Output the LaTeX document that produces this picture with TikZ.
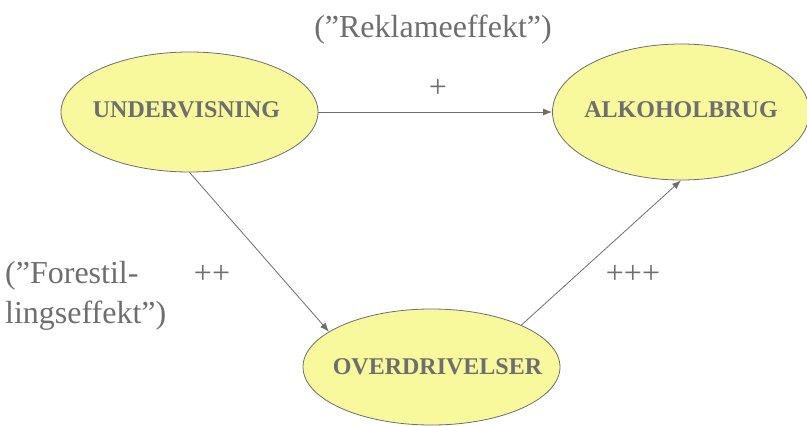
\documentclass[tikz,border=0pt]{standalone}
\usepackage{fontspec}
\setmainfont{Liberation Serif}
\usetikzlibrary{positioning}
\usetikzlibrary{shapes.geometric}
\usetikzlibrary{arrows.meta}
\definecolor{bubblefill}{RGB}{248,249,157}
\definecolor{linegray}{RGB}{110,110,110}

\begin{document}
\begin{tikzpicture}[x=1pt, y=-1pt,
                        bubble/.style={ellipse, draw=linegray, fill=bubblefill, line width=0.8pt,
                                       minimum width=257pt, inner sep=0pt},
                        title/.style={text=linegray, font=\fontsize{24}{28}\selectfont\bfseries},
                        note/.style={text=linegray, font=\fontsize{32}{40}\selectfont, inner sep=0pt},
                        connection/.style={draw=linegray, line width=0.8pt, -{Latex[length=9pt,width=7pt]}}]

            \useasboundingbox (0,0) rectangle (807,426);

            \node[bubble, minimum height=120pt,
                  label={[title, xshift=-3pt, yshift=2pt]center:UNDERVISNING}] (U) at (189.5,112) {};
            \node[bubble, minimum height=136pt,
                  label={[title, yshift=2pt]center:ALKOHOLBRUG}] (A) at (681,112) {};
            \node[bubble, minimum height=116pt,
                  label={[title, xshift=6pt]center:OVERDRIVELSER}] (O) at (431.5,367) {};

            \draw[connection] (U) -- (A);
            \draw[connection] (U.south) -- (O.161);
            \draw[connection] (O.25) -- (A.south);

            \node[note] (reklame) at (433,30) {(”Reklameeffekt”)};
            \node[note] (plus) at (438,88) {+};
            \node[note] (plusplus) at (212,274) {++};
            \node[note] (plusplusplus) at (633,274) {+++};
            \node[note, anchor=west, align=left] (forestil) at (5,296) {(”Forestil-\\lingseffekt”)};

        \end{tikzpicture}
\end{document}
